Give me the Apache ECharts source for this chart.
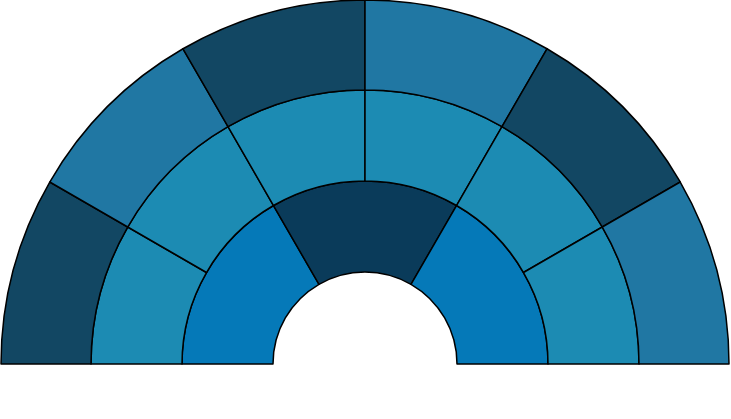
<!DOCTYPE html>
<html><head><meta charset="utf-8">
<script src="https://cdn.jsdelivr.net/npm/echarts@6/dist/echarts.min.js"></script>
<style>html,body{margin:0;padding:0;background:#fff}#c{width:731px;height:419px}</style>
</head><body><div id="c"></div>
<script>
var innerValues = [1, 1, 1];
var innerColors = ['#0579b8', '#0a3b5a', '#0579b8'];
var middleValues = [1, 1, 1, 1, 1, 1];
var middleColors = ['#1c8bb3', '#1c8bb3', '#1c8bb3', '#1c8bb3', '#1c8bb3', '#1c8bb3'];
var outerValues = [1, 1, 1, 1, 1, 1];
var outerColors = ['#124763', '#2077a3', '#124763', '#2077a3', '#124763', '#2077a3'];

function ring(values, colors, r0, r1) {
  var total = values.reduce(function (a, b) { return a + b; }, 0);
  var data = values.map(function (v, i) {
    return { value: v, itemStyle: { color: colors[i], borderColor: '#000', borderWidth: 1.5 } };
  });
  data.push({ value: total, itemStyle: { color: 'rgba(0,0,0,0)', borderWidth: 0 }, emphasis: { disabled: true } });
  return {
    type: 'pie', center: [365, 364], radius: [r0, r1], startAngle: 180, clockwise: true,
    label: { show: false }, labelLine: { show: false }, silent: true, animation: false,
    data: data
  };
}
var chart = echarts.init(document.getElementById('c'));
chart.setOption({
  animation: false,
  series: [
    ring(innerValues, innerColors, 92, 183),
    ring(middleValues, middleColors, 183, 274),
    ring(outerValues, outerColors, 274, 364)
  ]
});
</script></body></html>
